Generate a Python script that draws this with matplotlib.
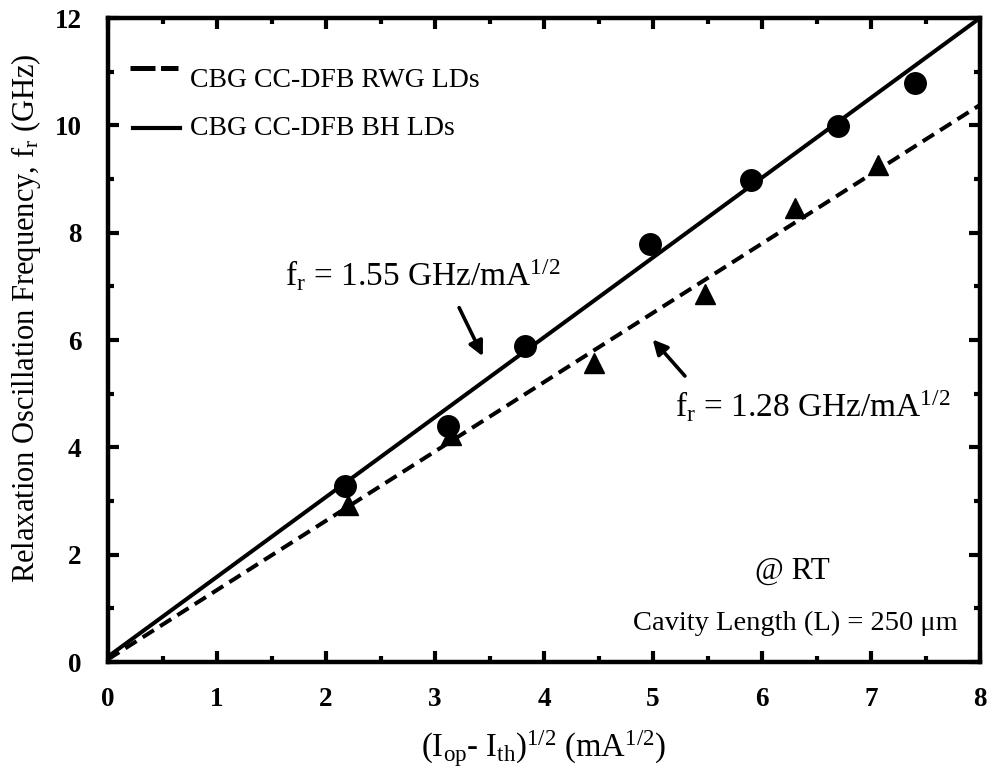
import matplotlib
matplotlib.use("Agg")
import matplotlib.pyplot as plt
from matplotlib.ticker import MultipleLocator

plt.rcParams['font.family'] = ['Liberation Serif', 'DejaVu Serif']
plt.rcParams['mathtext.fontset'] = 'custom'
plt.rcParams['mathtext.rm'] = 'Liberation Serif'
plt.rcParams['mathtext.it'] = 'Liberation Serif:italic'
plt.rcParams['mathtext.bf'] = 'Liberation Serif:bold'

# Measured data: BH lasers (circles) and RWG lasers (triangles)
bh_x = [2.17, 3.12, 3.83, 4.97, 5.90, 6.70, 7.40]
bh_y = [3.28, 4.40, 5.89, 7.79, 8.98, 9.99, 10.79]
rwg_x = [2.20, 3.15, 4.46, 5.48, 6.30, 7.06]
rwg_y = [2.93, 4.23, 5.58, 6.86, 8.46, 9.26]

# Linear fits
fit_x = [0.0, 8.0]
bh_fit = [0.10, 12.0]
rwg_fit = [0.05, 10.38]

fig = plt.figure(figsize=(9.93, 7.67), dpi=100)
ax = fig.add_axes([108/993, 105/767, 872/993, 644/767])

ax.plot(fit_x, bh_fit, '-', color='black', lw=2.9, solid_capstyle='butt')
ax.plot(fit_x, rwg_fit, '--', color='black', lw=2.9, dashes=(3.3, 1.8))
ax.plot(bh_x, bh_y, 'o', color='black', ms=15.5, ls='none')
ax.plot(rwg_x, rwg_y, '^', color='black', ms=15, ls='none')

ax.set_xlim(0, 8)
ax.set_ylim(0, 12)
ax.xaxis.set_major_locator(MultipleLocator(1))
ax.xaxis.set_minor_locator(MultipleLocator(0.5))
ax.yaxis.set_major_locator(MultipleLocator(2))
ax.yaxis.set_minor_locator(MultipleLocator(1))
ax.tick_params(which='both', direction='in', top=True, right=True, width=3)
ax.tick_params(which='major', length=8, labelsize=19.5)
ax.tick_params(axis='y', which='major', pad=19)
ax.tick_params(axis='x', which='major', pad=18)
ax.tick_params(which='minor', length=4.5)
for lab in ax.get_xticklabels() + ax.get_yticklabels():
    lab.set_fontweight('bold')
for s in ax.spines.values():
    s.set_linewidth(3.2)

ax.set_xlabel(r'(I$_{\rm op}$- I$_{\rm th}$)$^{1/2}$ (mA$^{1/2}$)', fontsize=23.5)
ax.xaxis.set_label_coords(0.499, -0.103)
ax.set_ylabel(r'Relaxation Oscillation Frequency, f$_{\rm r}$ (GHz)', fontsize=22)
ax.yaxis.set_label_coords(-0.094, 0.534)
ax.yaxis.label.set_va('center')

# Legend drawn by hand
ax.plot([0.20, 0.64], [11.06, 11.06], color='black', lw=3.6, dashes=(5, 1.1))
ax.plot([0.23, 0.66], [9.95, 9.95], color='black', lw=3.0)
ax.text(0.75, 10.71, 'CBG CC-DFB RWG LDs', fontsize=20, va='baseline', ha='left')
ax.text(0.75, 9.82, 'CBG CC-DFB BH LDs', fontsize=20, va='baseline', ha='left')

# Slope annotations
ax.text(1.62, 7.0, r'f$_{\rm r}$ = 1.55 GHz/mA$^{1/2}$', fontsize=24, va='baseline', ha='left')
ax.annotate('', xy=(3.45, 5.65), xytext=(3.21, 6.65),
            arrowprops=dict(arrowstyle='-|>', color='black', lw=2.6, mutation_scale=22))
ax.text(5.20, 4.56, r'f$_{\rm r}$ = 1.28 GHz/mA$^{1/2}$', fontsize=24, va='baseline', ha='left')
ax.annotate('', xy=(4.98, 6.05), xytext=(5.31, 5.29),
            arrowprops=dict(arrowstyle='-|>', color='black', lw=2.6, mutation_scale=22))

ax.text(6.28, 1.55, '@ RT', fontsize=22.5, va='baseline', ha='center')
ax.text(7.8, 0.60, 'Cavity Length (L) = 250 μm', fontsize=20.5, va='baseline', ha='right')

fig.savefig('out.png', dpi=100)
